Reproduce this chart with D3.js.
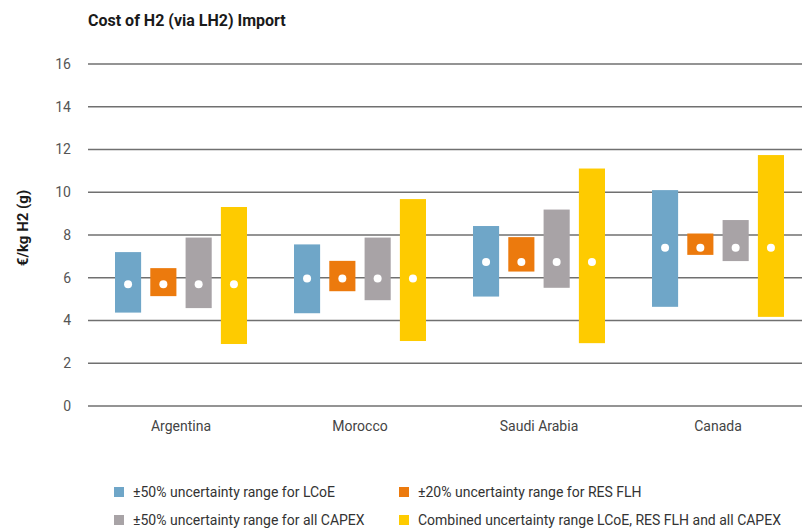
<!DOCTYPE html>
<html>
<head>
<meta charset="utf-8">
<script src="https://cdn.jsdelivr.net/npm/d3@7"></script>
<style>
  body { margin: 0; background: #fff; }
  text { font-family: "Roboto", sans-serif; }
</style>
</head>
<body>
<div id="graph"></div>
<script>
// data
var countries = ["Argentina", "Morocco", "Saudi Arabia", "Canada"];
var central   = [5.70, 5.96, 6.74, 7.40];
var lcoeLow   = [4.37, 4.34, 5.12, 4.64];
var lcoeHigh  = [7.20, 7.56, 8.42, 10.10];
var flhLow    = [5.14, 5.37, 6.29, 7.07];
var flhHigh   = [6.45, 6.79, 7.90, 8.07];
var capexLow  = [4.58, 4.95, 5.53, 6.78];
var capexHigh = [7.88, 7.88, 9.19, 8.70];
var combLow   = [2.90, 3.04, 2.94, 4.17];
var combHigh  = [9.31, 9.68, 11.11, 11.74];
var yTicks = [0, 2, 4, 6, 8, 10, 12, 14, 16];

var seriesNames = [
  "±50% uncertainty range for LCoE",
  "±20% uncertainty range for RES FLH",
  "±50% uncertainty range for all CAPEX",
  "Combined uncertainty range LCoE, RES FLH and all CAPEX"
];
var colors = ["#6fa6c8", "#ec7a0d", "#a8a3a6", "#fecb00"];
var lows = [lcoeLow, flhLow, capexLow, combLow];
var highs = [lcoeHigh, flhHigh, capexHigh, combHigh];

var width = 802, height = 529;

var svg = d3.select("#graph")
  .append("svg")
    .attr("width", width)
    .attr("height", height);

// scales
var x = d3.scaleBand()
  .domain(countries)
  .range([91.5, 807.5]);

var x1 = d3.scaleBand()
  .domain(d3.range(4))
  .range([-66, 66])
  .paddingInner(0.26);

var y = d3.scaleLinear()
  .domain([0, 16])
  .range([406, 64]);

// title
svg.append("text")
  .attr("x", 88)
  .attr("y", 26)
  .style("font-weight", "bold")
  .style("font-size", "16px")
  .style("fill", "#1a1a1a")
  .text("Cost of H2 (via LH2) Import");

// gridlines
svg.append("g")
  .selectAll("line")
  .data(yTicks)
  .enter()
  .append("line")
    .attr("x1", 88)
    .attr("x2", 802)
    .attr("y1", function(d) { return y(d); })
    .attr("y2", function(d) { return y(d); })
    .attr("stroke", "#707070")
    .attr("stroke-width", 1.3);

// y axis labels
var yAxis = svg.append("g")
  .attr("transform", "translate(71,0)")
  .call(d3.axisLeft(y).tickValues(yTicks).tickSize(0).tickPadding(0));
yAxis.select(".domain").remove();
yAxis.selectAll("text")
  .style("font-size", "14px")
  .style("fill", "#555")
  .style("font-family", "Roboto, sans-serif");

svg.append("text")
  .attr("transform", "translate(28,228) rotate(-90)")
  .attr("text-anchor", "middle")
  .style("font-weight", "bold")
  .style("font-size", "15px")
  .style("fill", "#1a1a1a")
  .text("€/kg H2 (g)");

// x axis labels
var xAxis = svg.append("g")
  .attr("transform", "translate(0,406)")
  .call(d3.axisBottom(x).tickSize(0).tickPadding(15));
xAxis.select(".domain").remove();
xAxis.selectAll("text")
  .style("font-size", "14px")
  .style("fill", "#444")
  .style("font-family", "Roboto, sans-serif");

// range bars with central value dots
for (var s = 0; s < 4; s++) {
  svg.append("g")
    .selectAll("rect")
    .data(countries)
    .enter()
    .append("rect")
      .attr("x", function(d) { return x(d) + x.bandwidth() / 2 + x1(s); })
      .attr("width", x1.bandwidth())
      .attr("y", function(d, i) { return y(highs[s][i]); })
      .attr("height", function(d, i) { return y(lows[s][i]) - y(highs[s][i]); })
      .style("fill", colors[s]);

  svg.append("g")
    .selectAll("circle")
    .data(countries)
    .enter()
    .append("circle")
      .attr("cx", function(d) { return x(d) + x.bandwidth() / 2 + x1(s) + x1.bandwidth() / 2; })
      .attr("cy", function(d, i) { return y(central[i]); })
      .attr("r", 4)
      .style("fill", "#fff");
}

// legend
var legPos = [[114, 492], [399, 492], [114, 520], [399, 520]];
var legend = svg.append("g")
  .selectAll("g")
  .data(seriesNames)
  .enter()
  .append("g")
    .attr("transform", function(d, i) { return "translate(" + legPos[i][0] + "," + legPos[i][1] + ")"; });

legend.append("rect")
  .attr("x", 0)
  .attr("y", -5)
  .attr("width", 10)
  .attr("height", 10)
  .style("fill", function(d, i) { return colors[i]; });

legend.append("text")
  .attr("x", 19)
  .attr("y", 0)
  .attr("dy", "0.35em")
  .style("font-size", "14px")
  .style("fill", "#333")
  .text(function(d) { return d; });
</script>
</body>
</html>
